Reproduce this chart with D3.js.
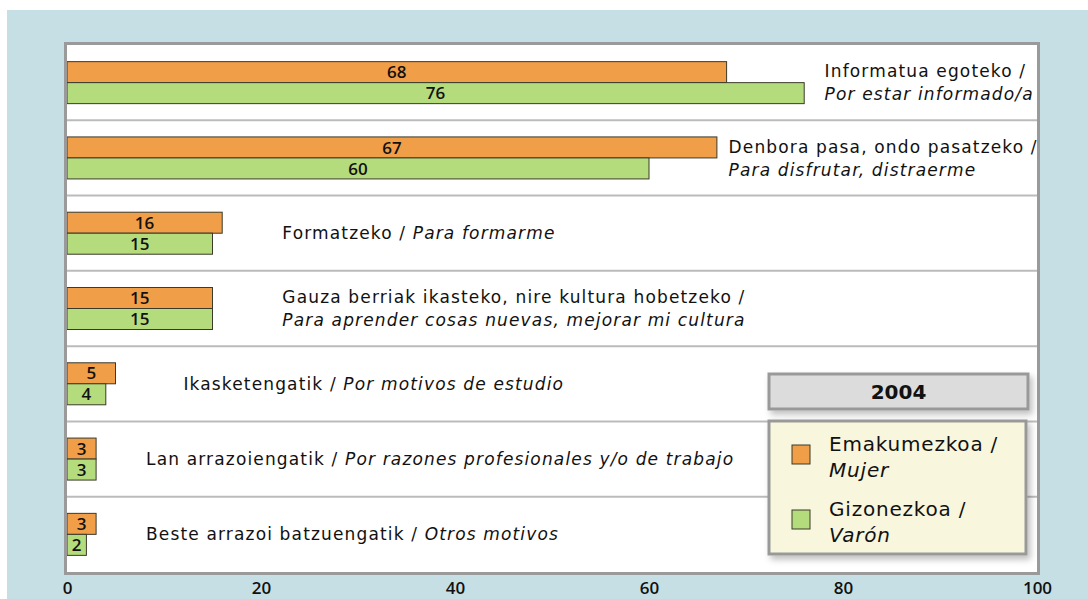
<!DOCTYPE html>
<meta charset="utf-8">
<head>
	<title>2004 - arrazoiak</title>
</head>

<style>
body { margin: 0; background: #fff; }
svg { display: block; }
text { fill: #111; }
.cat { font-family: "DejaVu Sans", sans-serif; font-size: 17px; letter-spacing: 1.15px; }
.val { font-family: "Open Sans", sans-serif; font-size: 17px; font-weight: 600; }
.tick text { font-family: "Open Sans", sans-serif; font-size: 17px; font-weight: 600; fill: #111; }
.leg { font-family: "DejaVu Sans", sans-serif; font-size: 20px; letter-spacing: 0.8px; }
</style>

<body>
<svg id="chart" width="1088" height="599"></svg>

<script src="https://cdnjs.cloudflare.com/ajax/libs/d3/7.8.5/d3.min.js"></script>
<script>

// datuak
var categories = [
	'Informatua egoteko',
	'Denbora pasa, ondo pasatzeko',
	'Formatzeko',
	'Gauza berriak ikasteko, nire kultura hobetzeko',
	'Ikasketengatik',
	'Lan arrazoiengatik',
	'Beste arrazoi batzuengatik'
];
var categoriesEs = [
	'Por estar informado/a',
	'Para disfrutar, distraerme',
	'Para formarme',
	'Para aprender cosas nuevas, mejorar mi cultura',
	'Por motivos de estudio',
	'Por razones profesionales y/o de trabajo',
	'Otros motivos'
];
var mujer = [68, 67, 16, 15, 5, 3, 3];
var varon = [76, 60, 15, 15, 4, 3, 2];
var seriesNames = ['Emakumezkoa /', 'Gizonezkoa /'];
var seriesNamesEs = ['Mujer', 'Varón'];
var ticks = [0, 20, 40, 60, 80, 100];
var year = '2004';

// etiketen kokapena (ardatzaren unitateetan) eta lerro bakarrekoak
var labelAt = [78.1, 68.2, 22.2, 22.2, 12.0, 8.15, 8.15];
var twoLines = [true, true, false, true, false, false, false];

var colors = ['#f09e48', '#b5dc7c'];

var svg = d3.select('#chart');

var pLeft = 67, pRight = 1037, pTop = 45, pBottom = 572;

var x = d3.scaleLinear().domain([0, 100]).range([pLeft, pRight]);
var y = d3.scaleBand().domain(d3.range(categories.length)).range([pTop, pBottom]);
var bw = y.bandwidth();
var y1 = d3.scaleBand().domain([0, 1]).range([(bw - 42) / 2, (bw + 42) / 2]);

// atzealdea
svg.append('rect')
	.attr('x', 7).attr('y', 10)
	.attr('width', 1081).attr('height', 589)
	.attr('fill', '#c6dfe4');

svg.append('rect')
	.attr('x', pLeft).attr('y', pTop)
	.attr('width', pRight - pLeft).attr('height', pBottom - pTop)
	.attr('fill', '#fff');

// bereizleak
svg.selectAll('line.sep')
	.data(d3.range(1, categories.length))
	.enter()
	.append('line')
	.attr('class', 'sep')
	.attr('x1', pLeft).attr('x2', pRight)
	.attr('y1', function(d){ return y(d); })
	.attr('y2', function(d){ return y(d); })
	.attr('stroke', '#bbb')
	.attr('stroke-width', 2);

// barrak
var rows = categories.map(function(c, i){
	return { i: i, vals: [mujer[i], varon[i]] };
});

var g = svg.selectAll('g.row')
	.data(rows)
	.enter()
	.append('g')
	.attr('class', 'row')
	.attr('transform', function(d){ return 'translate(0,' + y(d.i) + ')'; });

var bars = g.selectAll('g.bar')
	.data(function(d){ return d.vals.map(function(v, s){ return { v: v, s: s }; }); })
	.enter()
	.append('g')
	.attr('class', 'bar');

bars.append('rect')
	.attr('x', x(0))
	.attr('y', function(d){ return y1(d.s); })
	.attr('width', function(d){ return x(d.v) - x(0); })
	.attr('height', y1.bandwidth())
	.attr('fill', function(d){ return colors[d.s]; })
	.attr('stroke', '#3a3a2a')
	.attr('stroke-width', 1);

bars.append('text')
	.attr('class', 'val')
	.attr('x', function(d){ return (x(d.v) + x(0)) / 2; })
	.attr('y', function(d){ return y1(d.s) + y1.bandwidth() / 2; })
	.attr('dy', '0.36em')
	.attr('text-anchor', 'middle')
	.text(function(d){ return d.v; });

// kategorien etiketak
g.each(function(d){
	var t = d3.select(this).append('text')
		.attr('class', 'cat')
		.attr('x', x(labelAt[d.i]));
	if (twoLines[d.i]) {
		t.append('tspan')
			.attr('x', x(labelAt[d.i]))
			.attr('y', bw / 2 - 11.5)
			.attr('dy', '0.36em')
			.text(categories[d.i] + ' /');
		t.append('tspan')
			.attr('x', x(labelAt[d.i]))
			.attr('y', bw / 2 + 11.5)
			.attr('dy', '0.36em')
			.attr('font-style', 'italic')
			.text(categoriesEs[d.i]);
	} else {
		t.attr('y', bw / 2).attr('dy', '0.36em');
		t.append('tspan').text(categories[d.i] + ' / ');
		t.append('tspan').attr('font-style', 'italic').text(categoriesEs[d.i]);
	}
});

// ertza
svg.append('rect')
	.attr('x', pLeft - 1.5).attr('y', pTop - 1.5)
	.attr('width', pRight - pLeft + 3).attr('height', pBottom - pTop + 3)
	.attr('fill', 'none')
	.attr('stroke', '#9a9a9a')
	.attr('stroke-width', 3);

// ardatza
var axis = d3.axisBottom(x).tickValues(ticks).tickSize(0).tickPadding(9);
svg.append('g')
	.attr('transform', 'translate(0,' + (pBottom + 1) + ')')
	.call(axis)
	.call(function(a){ a.select('.domain').remove(); });

// legenda
var defs = svg.append('defs');
var f = defs.append('filter').attr('id', 'shadow')
	.attr('x', '-10%').attr('y', '-10%').attr('width', '130%').attr('height', '140%');
f.append('feDropShadow')
	.attr('dx', 3).attr('dy', 4).attr('stdDeviation', 3)
	.attr('flood-color', '#000').attr('flood-opacity', 0.25);

var lx = 769, lw = 259;

svg.append('rect')
	.attr('x', lx).attr('y', 374)
	.attr('width', lw).attr('height', 35)
	.attr('fill', '#dcdcdc')
	.attr('stroke', '#999').attr('stroke-width', 3)
	.attr('filter', 'url(#shadow)');

svg.append('text')
	.attr('x', lx + lw / 2).attr('y', 391.5)
	.attr('dy', '0.36em')
	.attr('text-anchor', 'middle')
	.attr('font-family', 'DejaVu Sans, sans-serif')
	.attr('font-weight', 'bold')
	.attr('font-size', 20)
	.text(year);

svg.append('rect')
	.attr('x', lx).attr('y', 421)
	.attr('width', lw - 2).attr('height', 133)
	.attr('fill', '#f8f6dd')
	.attr('stroke', '#999').attr('stroke-width', 3)
	.attr('filter', 'url(#shadow)');

var items = svg.selectAll('g.item')
	.data(seriesNames)
	.enter()
	.append('g')
	.attr('class', 'item')
	.attr('transform', function(d, i){ return 'translate(' + (lx + 23) + ',' + (445 + i * 65) + ')'; });

items.append('rect')
	.attr('x', 0).attr('y', 0)
	.attr('width', 18).attr('height', 19)
	.attr('fill', function(d, i){ return colors[i]; })
	.attr('stroke', '#3a3a2a');

items.append('text')
	.attr('class', 'leg')
	.attr('x', 37).attr('y', -1)
	.attr('dy', '0.36em')
	.text(function(d){ return d; });

items.append('text')
	.attr('class', 'leg')
	.attr('x', 37).attr('y', 25)
	.attr('dy', '0.36em')
	.attr('font-style', 'italic')
	.text(function(d, i){ return seriesNamesEs[i]; });

</script>

</body>
</html>
